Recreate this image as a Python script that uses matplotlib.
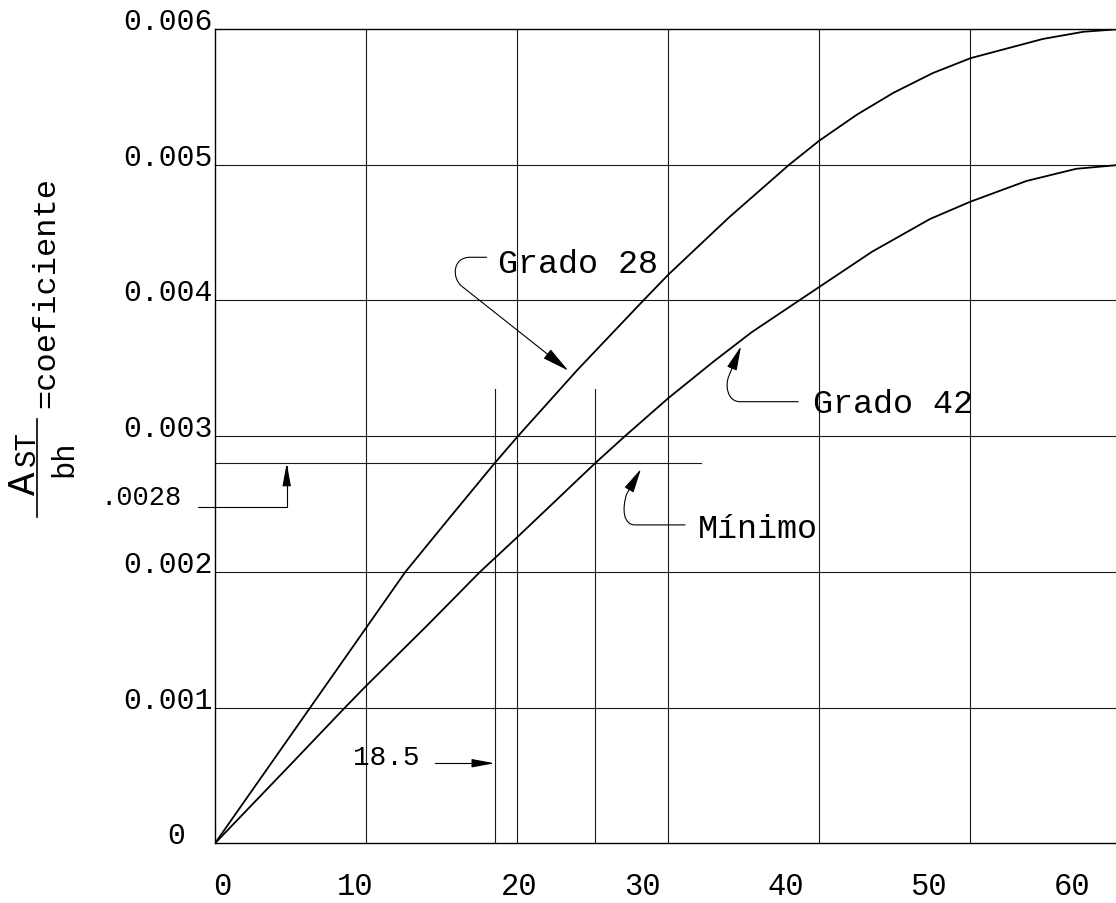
import matplotlib
matplotlib.use('Agg')
import matplotlib.pyplot as plt
import matplotlib.transforms as mtransforms
from matplotlib.path import Path
from matplotlib.patches import FancyArrowPatch, ArrowStyle
from matplotlib.lines import Line2D

plt.rcParams['font.family'] = ['Liberation Mono', 'DejaVu Sans Mono']

# ---------------- data ----------------
grado28_x = [0, 12.6, 15.5, 18.5, 20.05, 24.0, 28.35, 30.0, 34.0, 38.0, 40.0, 42.5, 44.9, 47.5, 50.0,
             54.8, 57.5, 60.0]
grado28_y = [0, 0.002, 0.002395, 0.0028, 0.003, 0.00349, 0.004, 0.00419, 0.00461, 0.005, 0.005178,
             0.00537, 0.00553, 0.005675, 0.005785, 0.005927, 0.00598, 0.006]

grado42_x = [0, 5.0, 8.6, 10.0, 14.0, 17.54, 20.0, 25.15, 27.13, 30.0, 33.0, 35.52, 40.0, 43.5, 47.32,
             50.0, 53.7, 57.0, 60.0]
grado42_y = [0, 0.00058, 0.001, 0.00116, 0.0016, 0.002, 0.002255, 0.0028, 0.003, 0.00328, 0.00355,
             0.003766, 0.0041, 0.00436, 0.0046, 0.004728, 0.00488, 0.00497, 0.005]

minimo_y = 0.0028
minimo_x_end = 32.16
cross_x = [18.5, 25.15]
cross_top = 0.00335

x_ticks = [0, 10, 20, 30, 40, 50, 60]
x_tick_labels = ['0', '10', '20', '30', '40', '50', '60']
y_ticks = [0, 0.001, 0.002, 0.003, 0.004, 0.005, 0.006]
y_tick_labels = ['0', '0.001', '0.002', '0.003', '0.004', '0.005', '0.006']
grid_x = [10, 20, 30, 40, 50]
grid_y = [0.001, 0.002, 0.003, 0.004, 0.005]

W, H = 1116, 904
fig = plt.figure(figsize=(W / 100, H / 100), dpi=100)
fig.patch.set_facecolor('white')

left_px, bottom_px, top_px = 215, 844.3, 30.0
px_per_unit = 15.11
ax = fig.add_axes([left_px / W, (H - bottom_px) / H, 60 * px_per_unit / W, (bottom_px - top_px) / H])
ax.set_xlim(0, 60)
ax.set_ylim(0, 0.006)

for s in ['left', 'bottom', 'top']:
    ax.spines[s].set_linewidth(1.0)
    ax.spines[s].set_color('black')
ax.spines['right'].set_visible(False)

gcol = '#1a1a1a'
for gx in grid_x:
    ax.axvline(gx, color=gcol, lw=0.8, zorder=1)
for gy in grid_y:
    ax.axhline(gy, color=gcol, lw=0.8, zorder=1)

# auxiliary lines
ax.plot([0, minimo_x_end], [minimo_y, minimo_y], color=gcol, lw=0.8, zorder=1)
for cx in cross_x:
    ax.plot([cx, cx], [0, cross_top], color=gcol, lw=0.8, zorder=1)

# curves
ax.plot(grado28_x, grado28_y, color='black', lw=1.3, zorder=3, solid_joinstyle='round')
ax.plot(grado42_x, grado42_y, color='black', lw=1.3, zorder=3, solid_joinstyle='round')

# ticks
ax.set_xticks(x_ticks)
ax.set_xticklabels(x_tick_labels, fontsize=22)
ax.set_yticks(y_ticks)
ax.set_yticklabels(y_tick_labels, fontsize=21.5)
ax.tick_params(axis='x', length=0, pad=36.7)
ax.tick_params(axis='y', length=0, pad=1.5)
for lbl in ax.get_xticklabels():
    lbl.set_va('baseline')
for lbl in ax.get_yticklabels():
    lbl.set_va('baseline')

x_dx = [7, -11, 2, -26, -34, -42.5, -49.6]
for lbl, dx in zip(ax.get_xticklabels(), x_dx):
    lbl.set_transform(lbl.get_transform() + mtransforms.ScaledTranslation(dx / 100, 0, fig.dpi_scale_trans))
ylbls = ax.get_yticklabels()
ylbls[0].set_transform(ylbls[0].get_transform() + mtransforms.ScaledTranslation(-28 / 100, 0, fig.dpi_scale_trans))

# ---------------- annotations ----------------
def leader(verts, codes, clip=True, hl=15, hw=3.2):
    p = FancyArrowPatch(path=Path(verts, codes),
                        arrowstyle=ArrowStyle('-|>', head_length=hl, head_width=hw),
                        mutation_scale=1, color='black', lw=0.8, transform=ax.transData,
                        zorder=4)
    p.set_clip_on(clip)
    ax.add_patch(p)

C4 = Path.CURVE4
# Grado 28
ax.text(18.73, 0.004212, 'Grado 28', fontsize=24, va='baseline', ha='left', zorder=5)
leader([(17.98, 0.004318), (16.88, 0.004318), (15.68, 0.004318), (15.68, 0.004159), (16.35, 0.004103),
        (23.38, 0.003483)],
       [Path.MOVETO, Path.LINETO, C4, C4, C4, Path.LINETO], hl=17, hw=3.6)

# Grado 42
ax.text(39.60, 0.003176, 'Grado 42', fontsize=24, va='baseline', ha='left', zorder=5)
leader([(38.60, 0.003254), (34.75, 0.003254), (33.86, 0.003254), (33.75, 0.003385), (34.02, 0.003446),
        (34.81, 0.003662)],
       [Path.MOVETO, Path.LINETO, C4, C4, C4, Path.LINETO])

# Minimo
ax.text(31.99, 0.002255, 'Mínimo', fontsize=24, va='baseline', ha='left', zorder=5)
leader([(31.11, 0.002346), (27.80, 0.002346), (27.02, 0.002346), (26.92, 0.002464), (27.25, 0.002575),
        (28.19, 0.002758)],
       [Path.MOVETO, Path.LINETO, C4, C4, C4, Path.LINETO])

# .0028
ax.text(-2.2, 0.0025, '.0028', fontsize=19.5, va='baseline', ha='right', clip_on=False)
leader([(-1.125, 0.00248), (4.745, 0.00248), (4.745, minimo_y)],
       [Path.MOVETO, Path.LINETO, Path.LINETO], clip=False, hl=14, hw=2.6)

# 18.5
ax.text(9.15, 0.000586, '18.5', fontsize=20, va='baseline', ha='left')
leader([(14.56, 0.00059), (cross_x[0], 0.00059)],
       [Path.MOVETO, Path.LINETO], hl=14, hw=2.6)

# ---------------- y label ----------------
def fpt(x, y):
    return x / W, 1 - y / H

fig.text(*fpt(35, 483.5), 'A', fontsize=28, rotation=90, rotation_mode='anchor', ha='center', va='baseline')
fig.text(*fpt(35, 448.5), 'ST', fontsize=21, rotation=90, rotation_mode='anchor', ha='center', va='baseline')
fig.add_artist(Line2D([37 / W, 37 / W], [1 - 420 / H, 1 - 518 / H], color='black', lw=1.2))
fig.text(*fpt(72, 459), 'bh', fontsize=22, rotation=90, rotation_mode='anchor', ha='center', va='baseline')
fig.text(*fpt(54, 408), '=coeficiente', fontsize=23, rotation=90, rotation_mode='anchor', ha='left', va='baseline')

fig.savefig('out.png', dpi=100, facecolor='white')
